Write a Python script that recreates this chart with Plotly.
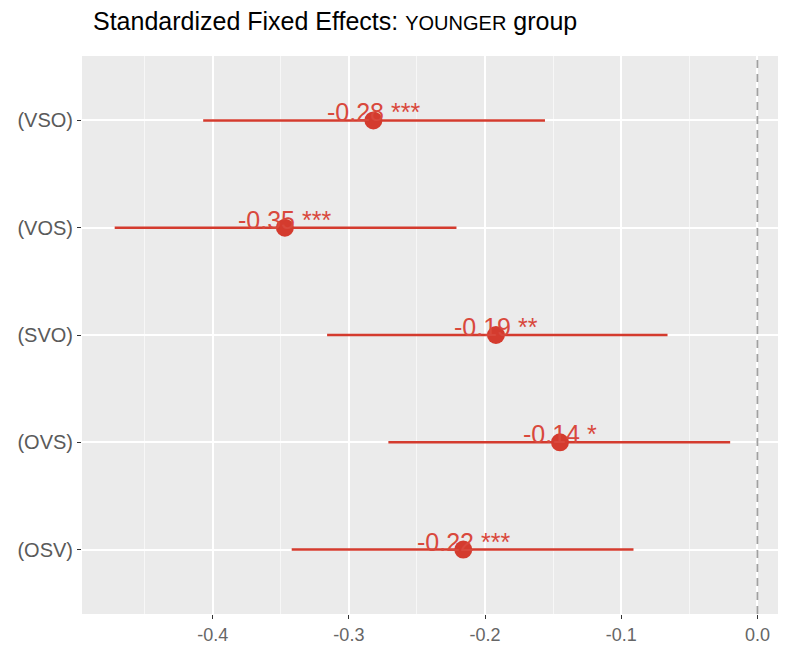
import plotly.graph_objects as go

# model terms (top to bottom) and standardized estimates with 95% CI
terms = ["(VSO)", "(VOS)", "(SVO)", "(OVS)", "(OSV)"]
estimate = [-0.282, -0.347, -0.192, -0.145, -0.216]
ci_low = [-0.407, -0.472, -0.316, -0.271, -0.342]
ci_high = [-0.156, -0.221, -0.066, -0.020, -0.091]
labels = ["-0.28", "-0.35", "-0.19", "-0.14", "-0.22"]
stars = ["***", "***", "**", "*", "***"]

red = "#D43B2E"
font = "Liberation Sans, Arial, Helvetica, sans-serif"

# plotly puts first category at bottom, so reverse
cats = terms[::-1]
est = estimate[::-1]
lo = ci_low[::-1]
hi = ci_high[::-1]

fig = go.Figure()
fig.add_trace(go.Scatter(
    x=est, y=cats, mode="markers",
    marker=dict(color=red, size=18),
    error_x=dict(type="data", symmetric=False,
                 array=[h - e for h, e in zip(hi, est)],
                 arrayminus=[e - l for e, l in zip(est, lo)],
                 color=red, thickness=2.5, width=0),
    showlegend=False, hoverinfo="skip"))

for t, e, lab, s in zip(terms, estimate, labels, stars):
    fig.add_annotation(x=e, y=t, text=lab + " " + s, showarrow=False,
                       yshift=8, font=dict(family=font, size=25, color="#D9483C"))

# dashed reference line at zero
fig.add_shape(type="line", x0=0, x1=0, y0=0, y1=1, xref="x", yref="paper",
              line=dict(color="#A0A0A0", width=1.8, dash="8px,6px"), layer="above")

# page body has an 8px margin, so the figure is 8px smaller than the window
fig.update_layout(
    width=778, height=640,
    margin=dict(l=74, r=0, t=48, b=34),
    paper_bgcolor="white", plot_bgcolor="#EBEBEB",
    font=dict(family=font),
    title=dict(text="Standardized Fixed Effects: <span style='font-size:20px'>YOUNGER</span> group",
               x=85 / 778, xref="container", xanchor="left",
               y=1 - 13 / 640, yref="container", yanchor="middle",
               font=dict(family=font, size=25, color="black")),
)
fig.update_xaxes(range=[-0.496, 0.021], tickvals=[-0.4, -0.3, -0.2, -0.1, 0.0],
                 ticktext=["-0.4", "-0.3", "-0.2", "-0.1", "0.0"],
                 showgrid=True, gridcolor="white", gridwidth=1.5,
                 minor=dict(showgrid=True, gridcolor="#F7F7F7", gridwidth=0.8,
                            tickvals=[-0.45, -0.35, -0.25, -0.15, -0.05]),
                 zeroline=False, ticks="outside", ticklen=4, tickcolor="#333333",
                 tickfont=dict(family=font, size=18, color="#666666"))
fig.update_yaxes(type="category", categoryorder="array", categoryarray=cats,
                 range=[-0.6, 4.6], showgrid=True, gridcolor="white", gridwidth=1.5,
                 zeroline=False, ticks="outside", ticklen=4, tickcolor="#333333",
                 tickfont=dict(family=font, size=20, color="#5A5A5A"))

fig.write_html("out.html")
